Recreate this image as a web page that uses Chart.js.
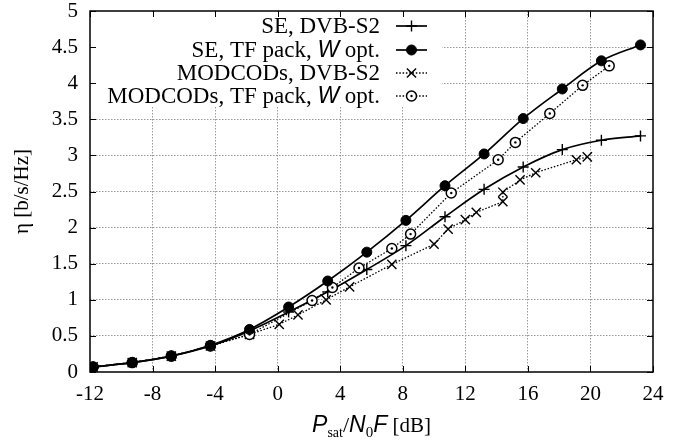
<!DOCTYPE html>
<html>
<head>
<meta charset="utf-8">
<script src="https://cdn.jsdelivr.net/npm/chart.js@4.4.1/dist/chart.umd.min.js"></script>
<style>
  html, body { margin: 0; padding: 0; background: #fff; }
</style>
</head>
<body>
<canvas id="chart_eff" width="690" height="447"></canvas>
<script>
// SNR grid (dB) shared by the two SE curves
const seSnr = [-11.8, -9.3, -6.8, -4.3, -1.8, 0.7, 3.2, 5.7, 8.2, 10.7, 13.2, 15.7, 18.2, 20.7, 23.2];
const seDvbEta = [0.07, 0.13, 0.22, 0.36, 0.57, 0.83, 1.11, 1.42, 1.75, 2.15, 2.53, 2.84, 3.08, 3.21, 3.27];
const seTfEta = [0.07, 0.13, 0.22, 0.37, 0.59, 0.9, 1.26, 1.66, 2.1, 2.58, 3.02, 3.51, 3.92, 4.31, 4.53];

// MODCOD points
const modDvbSnr = [-11.8, -9.3, -6.8, -4.3, -1.8, 0.1, 1.3, 3.1, 4.6, 7.3, 10.0, 10.9, 12.0, 12.7, 14.4, 14.4, 15.5, 16.5, 19.1, 19.8];
const modDvbEta = [0.07, 0.13, 0.22, 0.36, 0.52, 0.66, 0.79, 1.0, 1.18, 1.49, 1.77, 1.98, 2.11, 2.21, 2.36, 2.49, 2.66, 2.76, 2.94, 2.98];
const modTfSnr = [-11.8, -9.3, -6.8, -4.3, -1.8, 2.2, 3.5, 5.2, 7.3, 8.5, 11.1, 14.1, 15.2, 17.4, 19.5, 21.2];
const modTfEta = [0.07, 0.13, 0.22, 0.36, 0.52, 0.99, 1.17, 1.44, 1.71, 1.91, 2.48, 2.94, 3.18, 3.58, 3.97, 4.24];

const xTicks = [-12, -8, -4, 0, 4, 8, 12, 16, 20, 24];
const yTicks = [0, 0.5, 1, 1.5, 2, 2.5, 3, 3.5, 4, 4.5, 5];
const legendLabels = ["SE, DVB-S2", "SE, TF pack, |W| opt.", "MODCODs, DVB-S2", "MODCODs, TF pack, |W| opt."];

const SERIF = "'Liberation Serif', 'Times New Roman', serif";
const SANS = "'Liberation Sans', Arial, sans-serif";

function toPoints(xs, ys) {
  return xs.map((x, i) => ({ x: x, y: ys[i] }));
}

// the open circles get a dot in the middle (dataset 3)
const dotPlugin = {
  id: "dots",
  afterDatasetsDraw(chart) {
    const ctx = chart.ctx;
    const meta = chart.getDatasetMeta(3);
    ctx.save();
    ctx.fillStyle = "#000";
    meta.data.forEach((pt) => {
      ctx.beginPath();
      ctx.arc(pt.x, pt.y, 1.2, 0, Math.PI * 2);
      ctx.fill();
    });
    ctx.restore();
  },
};

// opaque key drawn by hand: text right aligned, sample to the right
const keyPlugin = {
  id: "key",
  afterDatasetsDraw(chart) {
    const ctx = chart.ctx;
    ctx.save();
    ctx.fillStyle = "#fff";
    ctx.fillRect(92, 12, 350, 94);
    const rows = [26, 50, 73, 96];
    chart.data.datasets.forEach((ds, i) => {
      const y = rows[i];
      const parts = legendLabels[i].split("|");
      ctx.textBaseline = "middle";
      let x = 380;
      for (let p = parts.length - 1; p >= 0; p--) {
        ctx.font = p % 2 == 1 ? "italic 23px " + SANS : "23px " + SERIF;
        const w = ctx.measureText(parts[p]).width;
        x -= w;
        ctx.fillStyle = "#000";
        ctx.fillText(parts[p], x, y + 1);
      }
      ctx.strokeStyle = "#000";
      ctx.lineWidth = ds.borderWidth;
      ctx.setLineDash(ds.borderDash || []);
      ctx.beginPath();
      ctx.moveTo(396, y);
      ctx.lineTo(427, y);
      ctx.stroke();
      ctx.setLineDash([]);
      ctx.fillStyle = ds.pointBackgroundColor;
      ctx.strokeStyle = "#000";
      ctx.lineWidth = ds.pointBorderWidth;
      Chart.helpers.drawPoint(ctx, {
        pointStyle: ds.pointStyle,
        radius: ds.pointRadius,
        borderWidth: ds.pointBorderWidth,
        rotation: 0,
      }, 411.5, y);
      if (i == 3) {
        ctx.fillStyle = "#000";
        ctx.beginPath();
        ctx.arc(411.5, y, 1.2, 0, Math.PI * 2);
        ctx.fill();
      }
    });
    ctx.restore();
  },
};

// frame + inward tick marks on all four sides, axis titles
const framePlugin = {
  id: "frame",
  afterDraw(chart) {
    const ctx = chart.ctx;
    const a = chart.chartArea;
    const xs = chart.scales.x;
    const ys = chart.scales.y;
    ctx.save();
    ctx.strokeStyle = "#000";
    ctx.lineWidth = 1.5;
    ctx.strokeRect(a.left, a.top, a.right - a.left, a.bottom - a.top);
    ctx.lineWidth = 1;
    ctx.beginPath();
    xTicks.forEach((t) => {
      const px = Math.round(xs.getPixelForValue(t)) + 0.5;
      ctx.moveTo(px, a.bottom);
      ctx.lineTo(px, a.bottom - 6);
      ctx.moveTo(px, a.top);
      ctx.lineTo(px, a.top + 6);
    });
    yTicks.forEach((t) => {
      const py = Math.round(ys.getPixelForValue(t)) + 0.5;
      ctx.moveTo(a.left, py);
      ctx.lineTo(a.left + 6, py);
      ctx.moveTo(a.right, py);
      ctx.lineTo(a.right - 6, py);
    });
    ctx.stroke();

    // y title
    ctx.fillStyle = "#000";
    ctx.save();
    ctx.translate(22, (a.top + a.bottom) / 2);
    ctx.rotate(-Math.PI / 2);
    ctx.font = "21px " + SERIF;
    ctx.textAlign = "center";
    ctx.textBaseline = "middle";
    ctx.fillText("\u03b7 [b/s/Hz]", 0, 0);
    ctx.restore();

    // x title: P_sat / N_0 F [dB]
    const base = 432;
    const pieces = [
      { t: "P", f: "italic 23px " + SANS, dy: 0 },
      { t: "sat", f: "14px " + SERIF, dy: 5 },
      { t: "/", f: "22px " + SERIF, dy: 0 },
      { t: "N", f: "italic 23px " + SANS, dy: 0 },
      { t: "0", f: "15px " + SERIF, dy: 5 },
      { t: "F", f: "italic 23px " + SANS, dy: 0 },
      { t: " [dB]", f: "21px " + SERIF, dy: 0 },
    ];
    let total = 0;
    pieces.forEach((p) => {
      ctx.font = p.f;
      p.w = ctx.measureText(p.t).width;
      total += p.w;
    });
    let x = (a.left + a.right) / 2 - total / 2;
    ctx.textBaseline = "alphabetic";
    ctx.textAlign = "left";
    pieces.forEach((p) => {
      ctx.font = p.f;
      ctx.fillText(p.t, x, base + p.dy);
      x += p.w;
    });
    ctx.restore();
  },
};

function gridColor(ctx) {
  const v = ctx.tick ? ctx.tick.value : null;
  const s = ctx.scale;
  if (v == s.min || v == s.max) return "rgba(0,0,0,0)";
  return "#9a9a9a";
}

var ctxEff = document.getElementById("chart_eff").getContext("2d");

var chartEff = new Chart(ctxEff, {
  type: "scatter",
  data: {
    datasets: [
      {
        label: "SE, DVB-S2",
        data: toPoints(seSnr, seDvbEta),
        showLine: true,
        borderColor: "#000",
        borderWidth: 1.7,
        cubicInterpolationMode: "monotone",
        pointStyle: "cross",
        pointRadius: 5.5,
        pointBorderWidth: 1.4,
        pointBorderColor: "#000",
        pointBackgroundColor: "#000",
        order: 3,
      },
      {
        label: "SE, TF pack, W opt.",
        data: toPoints(seSnr, seTfEta),
        showLine: true,
        borderColor: "#000",
        borderWidth: 1.7,
        cubicInterpolationMode: "monotone",
        pointStyle: "circle",
        pointRadius: 5,
        pointBorderWidth: 1,
        pointBorderColor: "#000",
        pointBackgroundColor: "#000",
        order: 1,
      },
      {
        label: "MODCODs, DVB-S2",
        data: toPoints(modDvbSnr, modDvbEta),
        showLine: true,
        borderColor: "#000",
        borderWidth: 1.3,
        borderDash: [1.5, 1.8],
        pointStyle: "crossRot",
        pointRadius: 6.5,
        pointBorderWidth: 1.4,
        pointBorderColor: "#000",
        pointBackgroundColor: "#000",
        order: 4,
      },
      {
        label: "MODCODs, TF pack, W opt.",
        data: toPoints(modTfSnr, modTfEta),
        showLine: true,
        borderColor: "#000",
        borderWidth: 1.3,
        borderDash: [1.5, 1.8],
        pointStyle: "circle",
        pointRadius: 5,
        pointBorderWidth: 1.5,
        pointBorderColor: "#000",
        pointBackgroundColor: "#fff",
        order: 2,
      },
    ],
  },
  options: {
    animation: false,
    responsive: false,
    layout: {
      padding: { top: 11, right: 37, left: 0, bottom: 0 },
    },
    plugins: {
      legend: { display: false },
      tooltip: { enabled: false },
    },
    scales: {
      x: {
        type: "linear",
        min: -12,
        max: 24,
        afterFit: function (scale) {
          scale.height = 75;
          scale.paddingLeft = 0;
          scale.paddingRight = 0;
        },
        afterBuildTicks: function (scale) {
          scale.ticks = xTicks.map((v) => ({ value: v }));
        },
        ticks: {
          autoSkip: false,
          maxRotation: 0,
          padding: 10,
          color: "#000",
          font: { family: SERIF, size: 21 },
          callback: (v) => String(v),
        },
        grid: {
          drawTicks: false,
          lineWidth: 1,
          color: gridColor,
        },
        border: { display: false, dash: [1.5, 1.5] },
      },
      y: {
        type: "linear",
        min: 0,
        max: 5,
        afterFit: function (scale) {
          scale.width = 90;
          scale.paddingTop = 0;
          scale.paddingBottom = 0;
        },
        afterBuildTicks: function (scale) {
          scale.ticks = yTicks.map((v) => ({ value: v }));
        },
        ticks: {
          autoSkip: false,
          padding: 12,
          color: "#000",
          font: { family: SERIF, size: 21 },
          callback: (v) => String(v),
        },
        grid: {
          drawTicks: false,
          lineWidth: 1,
          color: gridColor,
        },
        border: { display: false, dash: [1.5, 1.5] },
      },
    },
  },
  plugins: [dotPlugin, keyPlugin, framePlugin],
});
</script>
</body>
</html>
